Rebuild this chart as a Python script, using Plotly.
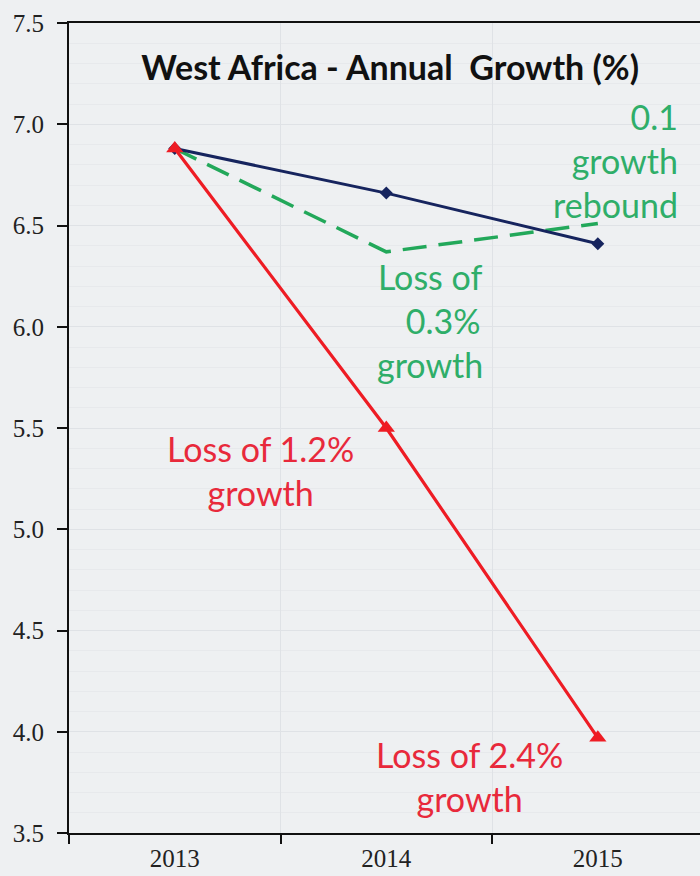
import plotly.graph_objects as go

years = ["2013", "2014", "2015"]
baseline = [6.88, 6.66, 6.41]
severe = [6.88, 5.50, 3.97]
mild = [6.88, 6.37, 6.51]
y_ticks = [3.5, 4.0, 4.5, 5.0, 5.5, 6.0, 6.5, 7.0, 7.5]

title_text = "<b>West Africa - Annual  Growth (%)</b>"
notes = [
    ("0.1<br>growth<br>rebound", "#2fae69"),
    ("Loss of<br>&nbsp;&nbsp;&nbsp;0.3%<br>growth", "#2fae69"),
    ("Loss of 1.2%<br>growth", "#e8293b"),
    ("Loss of 2.4%<br>growth", "#e8293b"),
]

fig = go.Figure()
fig.add_trace(go.Scatter(
    x=years, y=mild, mode="lines",
    line=dict(color="#22a85a", width=3.5, dash="24px,12px"),
    name="mild"))
fig.add_trace(go.Scatter(
    x=years, y=baseline, mode="lines+markers",
    line=dict(color="#16245e", width=3),
    marker=dict(symbol="diamond", size=10, color="#16245e"),
    name="baseline"))
fig.add_trace(go.Scatter(
    x=years, y=severe, mode="lines+markers",
    line=dict(color="#ee1c24", width=3.2),
    marker=dict(symbol="triangle-up", size=15, color="#ee1c24"),
    name="severe"))

ann_font = "Lato, 'Open Sans', sans-serif"
# annotation placements (x index, y value, anchors)
placements = [
    (2.389, 6.82, "right", "middle", "right"),
    (1.207, 6.03, "center", "middle", "center"),
    (0.403, 5.29, "center", "middle", "center"),
    (1.391, 3.78, "center", "middle", "center"),
]
for (txt, col), (xx, yy, xa, ya, al) in zip(notes, placements):
    fig.add_annotation(x=xx, y=yy, xref="x", yref="y", text=txt,
                       showarrow=False, xanchor=xa, yanchor=ya, align=al,
                       font=dict(family=ann_font, size=34, color=col))

tick_font = dict(family="'Liberation Serif', 'DejaVu Serif', serif", size=25, color="#222222")

fig.update_layout(
    width=700, height=876,
    margin=dict(l=69, r=0, t=23, b=43),
    paper_bgcolor="#eef0f2",
    plot_bgcolor="#eef0f2",
    showlegend=False,
    title=dict(text=title_text, x=0.509, xref="paper", y=0.944, yref="paper",
               xanchor="center", yanchor="middle",
               font=dict(family="Lato, 'Open Sans', sans-serif", size=34, color="#111111")),
)
fig.update_xaxes(
    type="category", range=[-0.5, 2.483], automargin=False,
    showline=True, linecolor="#111111", linewidth=2, mirror=True,
    ticks="outside", tickson="boundaries", ticklen=9, tickwidth=1.5, tickcolor="#111111",
    ticklabelstandoff=2,
    showgrid=True, gridcolor="#dfe2e6", gridwidth=1,
    tickfont=tick_font,
    zeroline=False,
)
fig.update_yaxes(
    range=[3.5, 7.5], tickvals=y_ticks, ticktext=[f"{v:.1f}" for v in y_ticks],
    automargin=False,
    showline=True, linecolor="#111111", linewidth=2,
    ticks="outside", ticklen=10, tickwidth=1.5, tickcolor="#111111",
    ticklabelstandoff=8,
    showgrid=True, gridcolor="#dfe2e6", gridwidth=1,
    minor=dict(dtick=0.1, showgrid=True, gridcolor="#e7e9ec", gridwidth=1),
    tickfont=tick_font,
    zeroline=False,
)

page_style = ("document.body.style.margin='0';"
              "document.body.style.background='#eef0f2';"
              "document.body.style.overflow='hidden';")
fig.write_html("out.html", post_script=page_style, config={"displayModeBar": False})
